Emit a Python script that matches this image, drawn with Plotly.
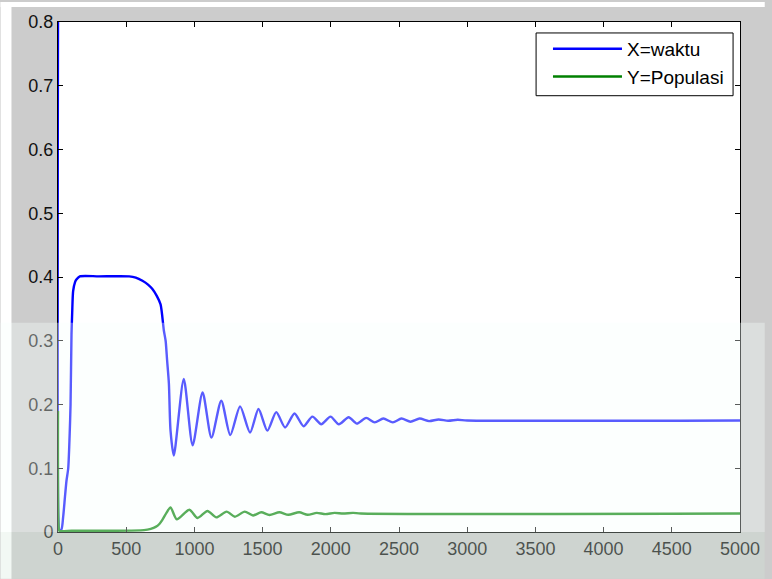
import plotly.graph_objects as go

# ---- data ----
waktu_x = [0, 3, 10, 25, 38, 51, 62, 75, 85, 92, 99, 104, 111, 125, 135, 160, 300, 522,
           570, 619, 660, 692, 725, 752, 776, 789, 800, 813, 825, 849, 922, 987, 1060,
           1125, 1197, 1263, 1335, 1408, 1470, 1535, 1600, 1665, 1734, 1800, 1865, 1930,
           1998, 2059, 2131, 2191, 2259, 2322, 2385, 2455, 2518, 2584, 2651, 2720, 2790,
           2860, 2930, 3000, 5000]
waktu_y = [0.8, 0.02, 0.003, 0.004, 0.024, 0.055, 0.08, 0.10, 0.15, 0.2, 0.31, 0.344, 0.378,
           0.392, 0.396, 0.401, 0.401, 0.401, 0.399, 0.394, 0.388, 0.381, 0.37, 0.357, 0.316,
           0.30, 0.269, 0.233, 0.159, 0.12, 0.24, 0.136, 0.219, 0.148, 0.206, 0.152, 0.197,
           0.156, 0.193, 0.159, 0.188, 0.164, 0.186, 0.166, 0.181, 0.169, 0.181, 0.169, 0.180,
           0.170, 0.179, 0.172, 0.178, 0.172, 0.178, 0.173, 0.178, 0.174, 0.1765, 0.1745,
           0.176, 0.175, 0.175]

populasi_x = [0, 4, 10, 100, 400, 630, 680, 716, 745, 765, 795, 825, 871, 963, 1023, 1096,
              1161, 1236, 1297, 1369, 1430, 1490, 1550, 1623, 1689, 1768, 1830, 1897, 1960,
              2027, 2090, 2163, 2220, 5000]
populasi_y = [0.19, 0.01, 0.002, 0.002, 0.002, 0.003, 0.005, 0.008, 0.013, 0.019, 0.03,
              0.0386, 0.020, 0.035, 0.022, 0.033, 0.023, 0.032, 0.024, 0.032, 0.026, 0.031,
              0.0266, 0.031, 0.027, 0.031, 0.027, 0.030, 0.028, 0.030, 0.029, 0.030, 0.029,
              0.029]

x_ticks = [0, 500, 1000, 1500, 2000, 2500, 3000, 3500, 4000, 4500, 5000]
y_ticks = [0, 0.1, 0.2, 0.3, 0.4, 0.5, 0.6, 0.7, 0.8]

W, H = 772, 579
ML, MR, MT, MB = 58, 25, 20, 47
PW, PH = W - ML - MR, H - MT - MB


def px_x(p):
    return (p - ML) / PW


def px_y(p):
    return (H - MB - p) / PH


fig = go.Figure()
fig.add_trace(go.Scatter(x=waktu_x, y=waktu_y, mode="lines", name="X=waktu",
                         line=dict(color="#0000ff", width=2.4, shape="spline", smoothing=0.7)))
fig.add_trace(go.Scatter(x=populasi_x, y=populasi_y, mode="lines", name="Y=Populasi",
                         line=dict(color="#008000", width=2.4, shape="spline", smoothing=0.7)))

font = "Liberation Sans, Arial, sans-serif"
axis_common = dict(showgrid=False, zeroline=False, showline=True, linecolor="#000000",
                   linewidth=1, mirror="ticks", ticks="inside", ticklen=5, tickcolor="#000000",
                   tickfont=dict(family=font, size=18, color="#111111"))

fig.update_xaxes(range=[0, 5000], tickvals=x_ticks, ticktext=[str(v) for v in x_ticks],
                 **axis_common)
fig.update_yaxes(range=[0, 0.8], tickvals=y_ticks,
                 ticktext=["0" if v == 0 else f"{v:.1f}" for v in y_ticks], **axis_common)

shapes = [
    # white strips at the top and left of the figure
    dict(type="rect", xref="paper", yref="paper", x0=px_x(0), x1=px_x(11), y0=px_y(H), y1=px_y(0),
         fillcolor="white", line_width=0, layer="below"),
    dict(type="rect", xref="paper", yref="paper", x0=px_x(0), x1=px_x(W), y0=px_y(5), y1=px_y(0),
         fillcolor="white", line_width=0, layer="below"),
    # legend box
    dict(type="rect", xref="paper", yref="paper", x0=px_x(541), x1=px_x(740), y0=px_y(94),
         y1=px_y(31), fillcolor="white", line=dict(color="#000000", width=1), layer="above"),
    # watermark-like fading overlays
    dict(type="rect", xref="paper", yref="paper", x0=px_x(0), x1=px_x(W), y0=px_y(H - MB),
         y1=px_y(322), fillcolor="rgba(248,255,251,0.36)", line_width=0, layer="above"),
    dict(type="rect", xref="paper", yref="paper", x0=px_x(0), x1=px_x(W), y0=px_y(H),
         y1=px_y(H - MB), fillcolor="rgba(212,232,220,0.3)", line_width=0, layer="above"),
]

fig.update_layout(
    width=W, height=H,
    margin=dict(l=ML, r=MR, t=MT, b=MB),
    paper_bgcolor="#cccccc", plot_bgcolor="white",
    shapes=shapes,
    showlegend=True,
    legend=dict(x=px_x(553), y=px_y(28), xanchor="left", yanchor="top",
                bgcolor="rgba(0,0,0,0)", borderwidth=0,
                font=dict(family=font, size=19, color="#000000"),
                itemwidth=69, tracegroupgap=0),
)

fig.write_html("out.html")
